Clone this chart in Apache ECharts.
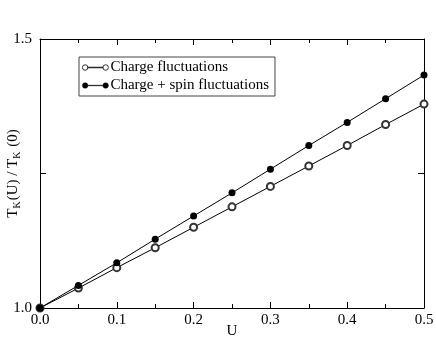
<!DOCTYPE html>
<html>
<head>
<meta charset="utf-8">
<script src="https://cdn.jsdelivr.net/npm/echarts@6/dist/echarts.min.js"></script>
<style>
  html, body { margin: 0; padding: 0; background: #fff; }
  #chart { width: 436px; height: 346px; }
</style>
</head>
<body>
<div id="chart"></div>
<script>
// U values and T_K(U)/T_K(0)
const uValues = [0.0, 0.05, 0.10, 0.15, 0.20, 0.25, 0.30, 0.35, 0.40, 0.45, 0.50];
const chargeOnly = [1.0, 1.037, 1.075, 1.112, 1.150, 1.188, 1.226, 1.264, 1.302, 1.341, 1.379];
const chargeSpin = [1.0, 1.042, 1.084, 1.128, 1.171, 1.214, 1.258, 1.302, 1.345, 1.389, 1.433];
const seriesNames = ['Charge fluctuations', 'Charge + spin fluctuations'];

const font = '"Liberation Serif", "DejaVu Serif", serif';
const ink = '#000';

// little o—o icon for the legend
const legendIcon = 'path://M1,5a4,4 0 1,0 8,0a4,4 0 1,0 -8,0Z M9,4.6L31,4.6L31,5.4L9,5.4Z M31,5a4,4 0 1,0 8,0a4,4 0 1,0 -8,0Z';

function pairs(ys) {
  return uValues.map(function (u, i) { return [u, ys[i]]; });
}

const baseX = {
  type: 'value', min: 0, max: 0.5, interval: 0.1,
  axisLine: { show: true, onZero: false, lineStyle: { color: ink, width: 1 } },
  axisTick: { show: true, inside: true, length: 6, lineStyle: { color: ink } },
  minorTick: { show: true, splitNumber: 2, length: 4, lineStyle: { color: ink } },
  splitLine: { show: false }
};
const baseY = {
  type: 'value', min: 1.0, max: 1.5, interval: 0.25,
  axisLine: { show: true, onZero: false, lineStyle: { color: ink, width: 1 } },
  axisTick: { show: true, inside: true, length: 6, lineStyle: { color: ink } },
  splitLine: { show: false }
};

const option = {
  animation: false,
  backgroundColor: '#fff',
  grid: { left: 40, right: 12, top: 39, bottom: 38, outerBoundsMode: 'none', containLabel: false },
  legend: {
    orient: 'vertical',
    left: 79, top: 57,
    width: 200,
    padding: [3, 6, 3, 3],
    itemGap: 3,
    itemWidth: 26, itemHeight: 7,
    backgroundColor: '#fff',
    borderColor: '#444', borderWidth: 1, borderRadius: 0,
    textStyle: { fontFamily: font, fontSize: 15, color: ink, padding: [0, 0, 0, -3] },
    data: [
      { name: seriesNames[0], icon: legendIcon, itemStyle: { color: '#fff', borderColor: ink, borderWidth: 0.8 } },
      { name: seriesNames[1], icon: legendIcon, itemStyle: { color: ink, borderColor: ink, borderWidth: 0.5 } }
    ]
  },
  xAxis: [
    Object.assign({}, baseX, {
      position: 'bottom',
      name: 'U', nameLocation: 'middle', nameGap: 16, nameMoveOverlap: false,
      nameTextStyle: { fontFamily: font, fontSize: 15, color: ink, verticalAlign: 'top' },
      axisLabel: {
        fontFamily: font, fontSize: 15, color: ink, margin: 5,
        formatter: function (v) { return v.toFixed(1); }
      }
    }),
    Object.assign({}, baseX, { position: 'top', axisLabel: { show: false } })
  ],
  yAxis: [
    Object.assign({}, baseY, {
      position: 'left',
      name: '{a|T}{s|K}{a|(U) / T}{s|K}{a| (0)}',
      nameLocation: 'middle', nameGap: 18, nameMoveOverlap: false,
      nameTextStyle: {
        verticalAlign: 'bottom',
        rich: {
          a: { fontFamily: font, fontSize: 15, color: ink },
          s: { fontFamily: font, fontSize: 10, color: ink, padding: [7, 1, 0, 0] }
        }
      },
      axisLabel: {
        fontFamily: font, fontSize: 15, color: ink, margin: 8,
        formatter: function (v) { return (Math.abs(v - 1.0) < 1e-6 || Math.abs(v - 1.5) < 1e-6) ? v.toFixed(1) : ''; }
      }
    }),
    Object.assign({}, baseY, { position: 'right', axisLabel: { show: false } })
  ],
  series: [
    {
      name: seriesNames[0], type: 'line', data: pairs(chargeOnly),
      symbol: 'emptyCircle', symbolSize: 7,
      lineStyle: { color: ink, width: 1 },
      itemStyle: { color: '#333', borderColor: '#333', borderWidth: 0.6 }
    },
    {
      name: seriesNames[1], type: 'line', data: pairs(chargeSpin),
      symbol: 'circle', symbolSize: 7,
      lineStyle: { color: ink, width: 1 },
      itemStyle: { color: ink }
    }
  ]
};

const chart = echarts.init(document.getElementById('chart'));
chart.setOption(option);
</script>
</body>
</html>
